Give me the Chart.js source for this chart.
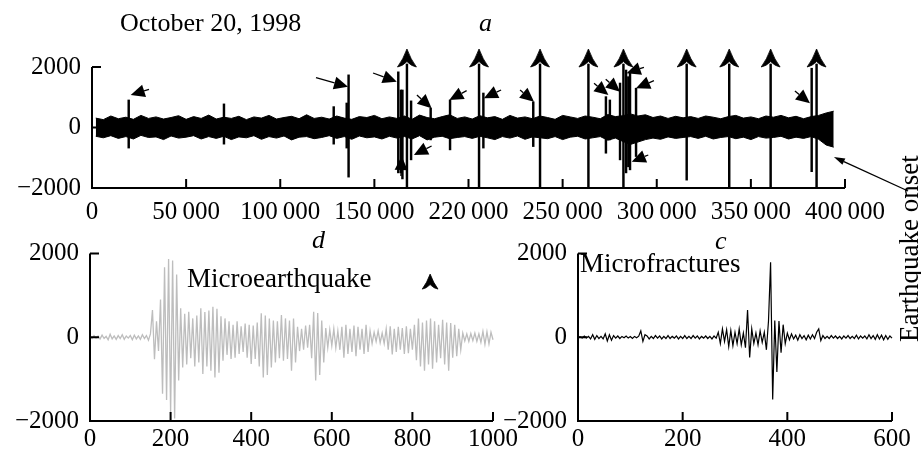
<!DOCTYPE html>
<html>
<head>
<meta charset="utf-8">
<script src="https://cdn.jsdelivr.net/npm/chart.js@4.4.1/dist/chart.umd.min.js"></script>
<style>
body { margin: 0; background: #fff; width: 921px; height: 457px; overflow: hidden; position: relative;
       font-family: "Liberation Serif", "Times New Roman", serif; }
canvas { position: absolute; }
.t { position: absolute; white-space: nowrap; line-height: 1; font-size: 26px; color: #000; }
.i { font-style: italic; }
.m { font-size: 27px; }
.v { transform-origin: 0 0; transform: rotate(-90deg); font-size: 27px; }
</style>
</head>
<body>
<canvas id="chartA" width="921" height="230" style="left:0;top:0"></canvas>
<canvas id="chartD" width="540" height="227" style="left:0;top:230px"></canvas>
<canvas id="chartC" width="441" height="227" style="left:480px;top:230px"></canvas>

<div class="t" style="left:120px;top:10px">October 20, 1998</div>
<div class="t i" style="left:479px;top:10px">a</div>
<div class="t i" style="left:312px;top:227px">d</div>
<div class="t i" style="left:715px;top:228px">c</div>
<div class="t m" style="left:187px;top:265px">Microearthquake</div>
<div class="t m" style="left:580px;top:250px">Microfractures</div>
<div class="t v" style="left:896px;top:342px">Earthquake onset</div>

<script>
// ---- panel a: continuous record, October 20, 1998 ----
const topXTicks = [0, 50000, 100000, 150000, 200000, 250000, 300000, 350000, 400000];
const topXLabels = ['0', '50\u2009000', '100\u2009000', '150\u2009000', '220\u2009000', '250\u2009000', '300\u2009000', '350\u2009000', '400\u2009000'];
const yTicks = [-2000, 0, 2000];
const yLabels = ['\u22122000', '0', '2000'];

// background noise envelope, one value per 4000-sample bin
const noiseBin = 4000;
const noiseHi = [310, 260, 380, 290, 340, 270, 400, 300, 350, 280,
                 330, 390, 270, 360, 300, 410, 280, 340, 300, 370,
                 260, 350, 310, 400, 280, 330, 370, 290, 420, 300,
                 340, 280, 380, 310, 270, 360, 330, 400, 290, 350,
                 300, 380, 270, 410, 330, 290, 360, 420, 300, 350,
                 280, 390, 320, 360, 270, 400, 310, 350, 290, 380,
                 330, 270, 400, 350, 300, 380, 340, 290, 430, 360,
                 390, 450, 380, 420, 330, 380, 300, 370, 320, 360,
                 300, 380, 340, 290, 360, 400, 310, 350, 290, 380,
                 340, 400, 320, 370, 290, 360, 400, 480, 540];
const noiseLo = [-290, -340, -270, -360, -300, -380, -260, -330, -310, -400,
                 -280, -350, -320, -270, -380, -300, -360, -290, -400, -310,
                 -340, -270, -390, -300, -350, -280, -410, -320, -300, -370,
                 -330, -270, -360, -300, -390, -280, -340, -310, -380, -290,
                 -350, -300, -380, -270, -410, -320, -290, -370, -330, -300,
                 -360, -290, -340, -400, -300, -350, -280, -390, -310, -340,
                 -370, -300, -400, -320, -290, -380, -340, -300, -420, -350,
                 -460, -560, -480, -400, -350, -390, -310, -360, -330, -300,
                 -360, -290, -380, -330, -300, -370, -320, -400, -300, -350,
                 -330, -290, -380, -320, -360, -300, -390, -580, -650];

// single events (spikes)
const spikeX  = [19500, 70100, 128400, 135300, 136300, 162700, 164100, 164900, 167300, 169500,
                 179900, 190200, 205600, 207900, 234400, 238000, 263700, 273000, 275100, 280500,
                 282300, 283700, 284900, 285800, 289000, 315900, 338500, 360500, 382300, 384900];
const spikeHi = [910, 780, 690, 810, 1740, 1840, 1240, 1240, 2100, 880,
                 640, 910, 2100, 1140, 850, 2100, 2100, 1020, 910, 1470,
                 2100, 1900, 1680, 1840, 1300, 2100, 2100, 2100, 1960, 2100];
const spikeLo = [-680, -550, -550, -680, -1640, -1500, -1500, -1700, -1960, -1070,
                 -410, -740, -1960, -680, -630, -1960, -1960, -850, -410, -1070,
                 -1960, -1500, -1300, -1400, -960, -1740, -1960, -1960, -1460, -1960];

// microearthquakes (marked with the arrowhead symbol)
const quakeX = [167300, 205600, 238000, 263700, 282300, 315900, 338500, 360500, 384900];

// microfracture pointers
const arrowHeadX = [20560, 136000, 161900, 164500, 180400, 171000, 189800, 208200, 234800, 274300, 280500, 284000, 289000, 286700, 381400];
const arrowHeadY = [1074, 1349, 1514, -942, 635, -909, 909, 965, 853, 1074, 1184, 1792, 1296, -1131, 800];
const arrowTailX = [30280, 119000, 149300, 164100, 172600, 180400, 199000, 217300, 227400, 266700, 272900, 293200, 298500, 295500, 373400];
const arrowTailY = [1263, 1646, 1802, -1603, 1074, -612, 1217, 1240, 1240, 1461, 1594, 1990, 1547, -909, 1207];
const onsetArrow = [433500, -2100, 394100, -975];

// ---- panel d: microearthquake ----
const dXTicks = [0, 200, 400, 600, 800, 1000];
const dXLabels = ['0', '200', '400', '600', '800', '1000'];
const dStep = 5;
const dValues = [
  20, -30, 40, -20, 30, -40, 50, -30, 20, -60, 70, -40, 30, -50, 40, -30, 60, -50, 30, -20, 40, -60, 50, -40, 30, -50, 60, -30, 40, -70, 80,
  650, -525, 380, -330, 900, -1350, 1670, -1500, 1870, -1820, 1830, -1940, 1500, -1035, 690, -720, 560, -650, 610, -500,
  450, -700, 520, -600, 690, -880, 600, -700, 640, -800, 730, -960, 680, -850, 500, -560, 450, -420, 380, -520,
  300, -490, 380, -400, 260, -350, 330, -490, 300, -640, 280, -520, 350, -700, 570, -960, 520, -900, 450, -720,
  400, -600, 380, -500, 530, -560, 450, -520, 400, -800, 450, -600, 250, -330, 200, -300, 280, -250, 300, -500,
  610, -1035, 580, -900, 400, -600, 220, -250, 180, -200, 200, -250, 150, -300, 250, -490, 300, -400, 200, -350,
  280, -450, 250, -300, 200, -400, 300, -350, 150, -150, 120, -100, 150, -130, 100, -150, 200, -300, 260, -410,
  200, -350, 250, -300, 220, -400, 260, -380, 200, -300, 300, -550, 450, -700, 350, -800, 400, -650, 450, -750,
  380, -600, 300, -500, 420, -650, 350, -800, 340, -490, 300, -450, 200, -300, 100, -90, 80, -100, 90, -80,
  100, -100, 80, -120, 140, -170, 130, -160, 120, -60
];
const dQuake = [844];

// ---- panel c: microfractures ----
const cXTicks = [0, 200, 400, 600];
const cXLabels = ['0', '200', '400', '600'];
const cStep = 4;
const cValues = [
  0, 10, -20, 30, -15, 20, -40, 60, -50, 40, -30,
  20, -40, 80, -90, 60, -70, 40, -20, 30, -30, 20, -10, 30, -20, 15, -30, 20, -10, 25,
  150, -100, 60,
  30, -40, 20, -30, 40, -20, 30, -40, 20, -30, 40, -30, 20, -20, 30, -40, 20, -30, 40, -30,
  20, -30, 40, -20, 30, -40, 20, -20, 30, -30, 20, -40, 30, -20,
  120, -150, 200, -100, 180, -220, 160, -200, 120, -150, 200, -180, 100,
  -250, 650, -485, 200, -150,
  100, -180, 150, -120, 120,
  -300, 390, 1790, -1485, 400, -830, 390, -370, 300, -150,
  100, -60, 80, -40, 50, -70, 60, -30, 40, -60, 50, -40, 60, -30,
  120, 200, -80,
  40, -30, 20, -30, 40, -20, 30, -30, 20, -40, 30, -20, 40, -30, 20, -30, 50, -40, 30, -20,
  30, -40, 60, -30, 40, -50, 60, -40, 50, -60, 40, -50, 30, -20
];

Chart.defaults.font.family = '"Liberation Serif", "Times New Roman", serif';
Chart.defaults.font.size = 25;
Chart.defaults.color = '#000';

// axis lines with ticks pointing inwards
const inwardAxes = {
  id: 'inwardAxes',
  afterDatasetsDraw(chart) {
    const { ctx, chartArea: a, scales: { x, y } } = chart;
    ctx.save();
    ctx.strokeStyle = '#000';
    ctx.lineWidth = 2;
    ctx.beginPath();
    ctx.moveTo(a.left, a.top);
    ctx.lineTo(a.left, a.bottom);
    ctx.lineTo(a.right, a.bottom);
    x.ticks.forEach(t => {
      if (t.value === x.min) return;
      const px = x.getPixelForValue(t.value);
      ctx.moveTo(px, a.bottom);
      ctx.lineTo(px, a.bottom - 9);
    });
    y.ticks.forEach(t => {
      if (t.value === y.min) return;
      const py = y.getPixelForValue(t.value);
      ctx.moveTo(a.left, py);
      ctx.lineTo(a.left + 9, py);
    });
    ctx.stroke();
    ctx.restore();
  }
};

// three-pointed arrowhead symbol for microearthquakes
const quakeMarks = {
  id: 'quakeMarks',
  afterDatasetsDraw(chart, args, opts) {
    if (!opts.xs) return;
    const { ctx, scales: { x, y } } = chart;
    const s = opts.size, w = opts.size * 1.05;
    ctx.save();
    ctx.fillStyle = '#000';
    ctx.strokeStyle = '#000';
    ctx.lineWidth = 0.8;
    ctx.lineJoin = 'miter';
    opts.xs.forEach(v => {
      const px = x.getPixelForValue(v), py = y.getPixelForValue(opts.y);
      ctx.beginPath();
      ctx.moveTo(px, py - s);
      ctx.quadraticCurveTo(px - w * 0.2, py - s * 0.42, px - w * 0.5, py);
      ctx.quadraticCurveTo(px - w * 0.24, py - s * 0.04, px, py - s * 0.3);
      ctx.quadraticCurveTo(px + w * 0.24, py - s * 0.04, px + w * 0.5, py);
      ctx.quadraticCurveTo(px + w * 0.2, py - s * 0.42, px, py - s);
      ctx.closePath();
      ctx.fill();
      ctx.stroke();
    });
    ctx.restore();
  }
};

function drawArrow(ctx, x1, y1, x2, y2, len, half, lw) {
  const ang = Math.atan2(y2 - y1, x2 - x1);
  const bx = x2 - Math.cos(ang) * len, by = y2 - Math.sin(ang) * len;
  ctx.lineWidth = lw;
  ctx.beginPath();
  ctx.moveTo(x1, y1);
  ctx.lineTo(bx, by);
  ctx.stroke();
  ctx.beginPath();
  ctx.moveTo(x2, y2);
  ctx.lineTo(bx + Math.sin(ang) * half, by - Math.cos(ang) * half);
  ctx.lineTo(bx - Math.sin(ang) * half, by + Math.cos(ang) * half);
  ctx.closePath();
  ctx.fill();
}

const pointers = {
  id: 'pointers',
  afterDatasetsDraw(chart, args, opts) {
    if (!opts.headX) return;
    const { ctx, scales: { x, y } } = chart;
    ctx.save();
    ctx.strokeStyle = '#000';
    ctx.fillStyle = '#000';
    opts.headX.forEach((hx, i) => {
      drawArrow(ctx,
        x.getPixelForValue(opts.tailX[i]), y.getPixelForValue(opts.tailY[i]),
        x.getPixelForValue(hx), y.getPixelForValue(opts.headY[i]), 14, 6.5, 1.3);
    });
    const o = opts.onset;
    drawArrow(ctx, x.getPixelForValue(o[0]), y.getPixelForValue(o[1]),
      x.getPixelForValue(o[2]), y.getPixelForValue(o[3]), 11, 3.5, 1.3);
    ctx.restore();
  }
};

Chart.register(inwardAxes, quakeMarks, pointers);

function makeOptions(cfg) {
  return {
    responsive: false,
    animation: false,
    devicePixelRatio: 1,
    layout: { padding: cfg.padding },
    plugins: {
      legend: { display: false },
      tooltip: { enabled: false },
      quakeMarks: cfg.marks || false,
      pointers: cfg.pointers || false
    },
    scales: {
      x: {
        type: 'linear', min: 0, max: cfg.xMax, offset: false,
        grid: { display: false, drawTicks: false },
        border: { display: false },
        afterBuildTicks: s => { s.ticks = cfg.xTicks.map(v => ({ value: v })); },
        afterFit: s => { s.height = cfg.xHeight; },
        ticks: { autoSkip: false, maxRotation: 0, padding: cfg.xPad, font: { lineHeight: 1 },
                 callback: (v, i) => cfg.xLabels[i] }
      },
      y: {
        type: 'linear', min: -2000, max: 2000,
        grid: { display: false, drawTicks: false },
        border: { display: false },
        afterBuildTicks: s => { s.ticks = yTicks.map(v => ({ value: v })); },
        afterFit: s => { s.width = cfg.yWidth; },
        ticks: { padding: 11, font: { lineHeight: 1 }, callback: (v, i) => yLabels[i] }
      }
    }
  };
}

// panel a
new Chart(document.getElementById('chartA'), {
  type: 'bar',
  data: {
    datasets: [
      { type: 'line', data: noiseHi.map((v, i) => ({ x: (i + 0.5) * noiseBin, y: v })),
        borderColor: '#000', borderWidth: 1, backgroundColor: '#000', pointRadius: 0, fill: '+1', tension: 0 },
      { type: 'line', data: noiseLo.map((v, i) => ({ x: (i + 0.5) * noiseBin, y: v })),
        borderColor: '#000', borderWidth: 1, pointRadius: 0, fill: false, tension: 0 },
      { type: 'bar', data: spikeX.map((x, i) => ({ x: x, y: [spikeLo[i], spikeHi[i]] })),
        backgroundColor: '#000', barThickness: 1.8, grouped: false, clip: false }
    ]
  },
  options: makeOptions({
    padding: { top: 67, right: 76, left: 0, bottom: 0 },
    xMax: 400000, xTicks: topXTicks, xLabels: topXLabels, xHeight: 42, xPad: 12, yWidth: 92,
    marks: { xs: quakeX, y: 2000, size: 18 },
    pointers: { headX: arrowHeadX, headY: arrowHeadY, tailX: arrowTailX, tailY: arrowTailY, onset: onsetArrow }
  })
});

// panel d
new Chart(document.getElementById('chartD'), {
  type: 'line',
  data: {
    datasets: [
      { data: dValues.map((v, i) => ({ x: i * dStep, y: v })),
        borderColor: '#bdbdbd', borderWidth: 1.3, pointRadius: 0, tension: 0, clip: false }
    ]
  },
  options: makeOptions({
    padding: { top: 21, right: 47, left: 0, bottom: 0 },
    xMax: 1000, xTicks: dXTicks, xLabels: dXLabels, xHeight: 36, xPad: 6, yWidth: 90,
    marks: { xs: dQuake, y: 1150, size: 15 }
  })
});

// panel c
new Chart(document.getElementById('chartC'), {
  type: 'line',
  data: {
    datasets: [
      { data: cValues.map((v, i) => ({ x: i * cStep, y: v })),
        borderColor: '#000', borderWidth: 1.2, pointRadius: 0, tension: 0, clip: false }
    ]
  },
  options: makeOptions({
    padding: { top: 14, right: 29, left: 0, bottom: 0 },
    xMax: 600, xTicks: cXTicks, xLabels: cXLabels, xHeight: 36, xPad: 6, yWidth: 98
  })
});
</script>
</body>
</html>
